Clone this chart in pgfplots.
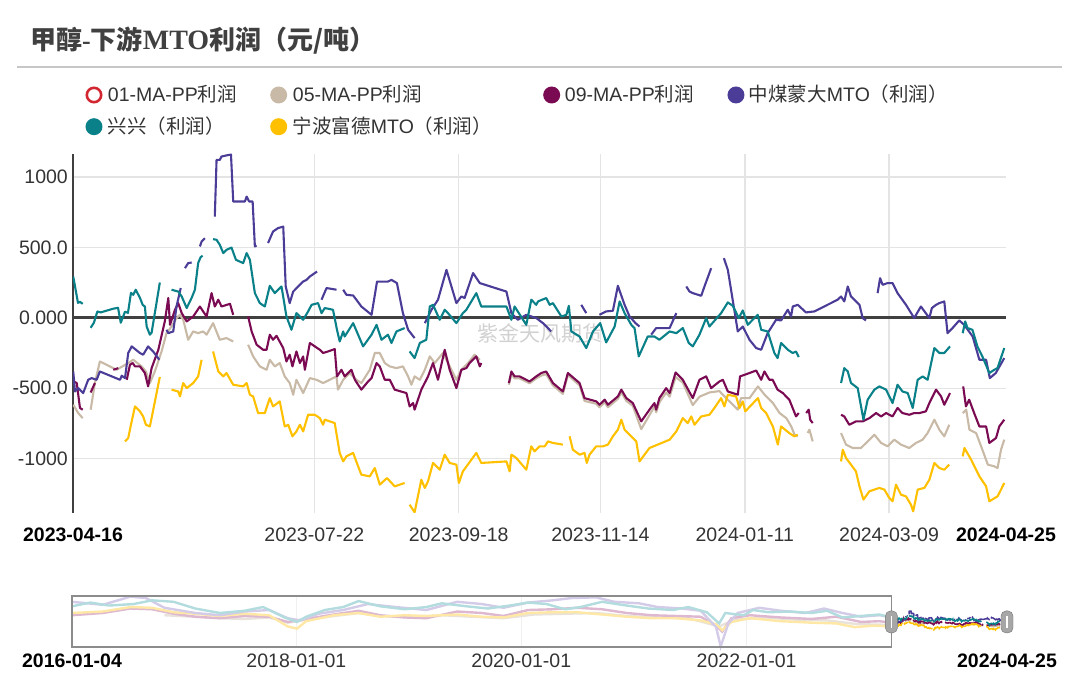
\documentclass[border=0pt]{standalone}
\usepackage{pgfplots}
\pgfplotsset{compat=1.18}
\usepackage{pgfplotstable}
\usepackage{fontspec}
\setmainfont{Liberation Sans}
\newfontfamily\cjk{Noto Sans CJK SC}
\newfontfamily\titleserif{Liberation Serif}
\definecolor{cteal}{HTML}{0A8089}
\definecolor{cpurple}{HTML}{4B3C97}
\definecolor{cmaroon}{HTML}{7A0A52}
\definecolor{cbeige}{HTML}{C8BAA6}
\definecolor{cyellow}{HTML}{FFC000}
\definecolor{cred}{HTML}{D22630}
\definecolor{lteal}{HTML}{B2DCDE}
\definecolor{lpurple}{HTML}{D3CBE8}
\definecolor{lmaroon}{HTML}{DDB8D0}
\definecolor{lbeige}{HTML}{E8E2DA}
\definecolor{lyellow}{HTML}{FFE8A6}
\definecolor{gridgray}{HTML}{E4E4E4}
\definecolor{axisdark}{HTML}{404040}
\definecolor{txt}{HTML}{333333}

\pgfplotstableread{
d v
0.1 293
2.0 106
2.8 113
3.9 99
5.5 nan
7.1 -71
8.4 -35
9.8 45
11.1 38
16.1 64
18.1 71
19.2 -35
20.9 43
22.1 35
23.3 177
24.2 163
25.2 199
26.9 142
28.0 92
28.9 80
29.6 -62
30.9 -120
31.6 -106
34.9 250
37 nan
39.6 199
42.3 186
43.7 151
45.7 69
47.7 142
49.0 199
50.3 388
51.3 430
52.1 440
54 nan
56.3 558
57.7 553
59.0 518
60.4 459
61.7 482
63.7 498
65.5 411
68.4 388
69.8 459
71.1 411
73.1 175
75.1 104
77.1 80
79.1 227
81.1 175
83.8 222
85.8 9
87.8 -85
89.8 33
92.5 -14
94.5 45
95.9 92
98.5 104
99.9 33
101.2 69
104.5 57
106.1 -85
107.2 -168
108.6 -97
109.2 -133
112.6 -38
116.6 -203
120.0 -120
122.0 -50
124.0 -156
126.6 -120
128.0 -179
130.0 -97
133.3 -73
134.3 nan
135.3 -239
137.3 -286
139.4 -179
142.0 -156
143.4 80
144.7 92
147.4 -14
149.4 57
150.7 33
154.1 -38
156.7 33
158.1 57
162.1 175
164.1 80
166.8 80
174.2 80
176.2 -14
177.5 80
182.2 -50
184.2 128
186.2 92
186.9 116
190.2 140
191.6 92
192.9 104
196.3 9
198.3 21
199.3 85
200.3 -97
203.6 -133
206.3 -215
209.0 -97
211.9 -38
214.3 -175
217.7 -62
219.7 116
221.7 33
224.4 -50
225.7 -73
227.4 -274
231.0 -133
233.7 -133
235.7 -156
239.8 -97
242.5 -109
245.1 -73
247.5 -179
249.1 -203
251.8 -120
254.5 -2
255.8 -62
260.5 33
263.2 109
265.2 85
267.6 -2
269.2 52
271.2 -50
273.2 -14
275.2 21
276.6 -85
279.2 -97
281.9 -250
283.2 -286
284.6 -179
287.3 -227
289.3 -250
290.6 -239
291.7 -279
300 nan
308.7 -463
310.0 -357
311.4 -381
312.7 -463
315.4 -499
317.7 -723
319.4 -581
322.1 -510
324.1 -487
326.8 -510
329.4 -605
331.4 -475
333.4 -523
335.5 -534
337.5 -640
339.5 -440
341.5 -416
343.5 -440
346.2 -215
348.2 -250
350.2 -250
352.5 -203
355 nan
357.6 -109
358.6 -26
359.5 -73
361.5 -85
363.5 -203
365.5 -274
368.3 -392
370.3 -369
371.6 -357
374.3 -215
}\tealdata

\pgfplotstableread{
d v
0.1 -381
0.8 -523
2.1 -499
4.1 -534
6.1 -440
7.5 -428
9.5 -440
10.8 -381
18.9 -440
19.6 -411
20.9 -428
22.2 -250
23.6 -203
26.9 -250
28.2 -262
30.2 -203
32.2 -239
34.7 -298
36 nan
37.6 -85
38.3 -109
40.3 -97
41.6 80
43.3 211
44 nan
45.0 352
46.3 388
47.7 392
49 nan
51.0 506
51.7 541
53.0 565
55 nan
57.0 718
57.7 1120
59.0 1120
59.7 1144
61.7 1152
63.5 1158
64.4 825
69.1 825
69.8 860
70.8 825
72.2 825
73.1 506
73.8 513
76 nan
78.4 530
80.4 612
82.4 636
84.5 647
85.5 222
87.1 104
88.5 186
91.2 234
92.5 257
93.9 269
95.2 293
98.1 328
99 nan
99.9 128
101.9 211
105.9 199
107 nan
108.6 199
109.9 163
112.6 158
113.9 128
115.9 80
120.0 21
122.2 257
126.6 257
128.0 269
130.2 246
132.6 33
134.7 -85
137.3 -144
139 nan
141.4 -38
144.1 57
146.7 128
150.1 340
154.1 104
156.1 151
157.4 140
160.8 317
163.5 246
174.2 186
176.2 33
178.8 -14
182.2 21
186.2 -2
188.9 -38
192.2 -97
198 nan
204.3 92
206.3 33
209 nan
211.6 21
214.3 45
217.0 50
219.0 227
221.7 92
223.7 9
226.1 -38
227.7 -62
230 nan
232.4 -120
234.4 -73
239.8 -73
242.5 33
244 nan
246.5 222
247.8 186
249.1 175
252.5 156
253.8 222
256.5 352
259 nan
261.6 423
263.2 340
267.2 -97
269.2 -62
271.9 -156
274.6 -215
276.6 -227
279.2 -109
282.6 -14
284.6 -19
287.3 57
288.6 9
289.3 80
291.3 92
294.6 38
298.0 45
307.3 128
308.7 151
310.0 116
311.4 222
312.7 151
316.1 92
317.4 -2
318.7 -19
321 nan
323.4 175
324.4 281
325.4 234
327.4 246
329.4 246
331.4 175
334.8 92
338.1 -2
340.8 80
344.2 -2
345.2 69
346.9 92
348.2 104
350.2 116
351.5 -109
353.5 -73
356.2 -19
358.2 -50
361.6 -133
364.3 -298
367.0 -298
368.5 -428
370.9 -392
374.3 -286
}\purpledata

\pgfplotstableread{
d v
0.1 -450
1.5 -463
2.8 -640
3.9 -652
5 nan
7.1 -530
8.8 -463
12 nan
16.2 -369
18.2 -357
20 nan
21.6 -440
22.9 -333
24.0 -321
24.9 -345
26.9 -345
28.9 -392
30.2 -487
31.6 -357
34.3 -227
36.9 -26
38.3 140
39.0 -50
41.0 57
42.3 104
43.7 33
45.7 -26
48.3 9
51.0 80
52.3 45
53.7 9
55.7 175
57.0 80
58.4 128
59.7 80
63.1 99
64.4 21
67 nan
70.4 9
71.8 -97
73.8 -191
76.4 -227
77.8 -227
79.1 -120
80.4 -156
81.8 -128
84.5 -215
85.8 -310
87.1 -262
88.2 -345
89.8 -239
91.2 -321
92.5 -274
93.2 -369
95.2 -179
97.2 -203
99.2 -227
100.5 -250
102.5 -239
105.2 -222
106.1 -416
107.9 -369
109.2 -416
111.9 -369
113.3 -440
115.9 -510
118.6 -452
120.0 -428
122.0 -321
123.3 -345
125.3 -440
127.3 -440
129.3 -510
134.0 -534
135.3 -629
136.7 -605
137.3 -652
140.0 -510
142.7 -416
144.7 -321
146.7 -440
149.4 -227
151.4 -369
154.1 -499
156.1 -369
158.1 -357
159.4 -321
162.1 -274
163.5 -345
164.1 -321
170 nan
175.2 -463
176.2 -381
177.5 -416
179.5 -416
183.5 -452
186.2 -416
188.2 -392
190.2 -381
192.9 -463
196.9 -523
198.9 -392
203.6 -463
205.6 -570
210.3 -593
211.6 -617
213.7 -581
215.0 -617
219.0 -558
220.4 -510
222.4 -570
225.0 -605
228.4 -735
231.7 -652
233.7 -605
234.4 -652
235.7 -570
238.4 -499
239.8 -534
242.2 -388
245.1 -440
249.1 -570
251.8 -440
254.5 -416
256.5 -499
259.8 -452
261.2 -440
263.2 -523
267.2 -546
268.1 -416
271.9 -392
274.6 -374
276.6 -440
277.9 -381
279.9 -440
281.2 -440
283.2 -510
285.3 -534
287.9 -581
290.6 -700
291.7 -676
293 nan
294.7 -676
295.7 -652
296.3 -723
297.3 -747
300 nan
308.7 -688
310.0 -700
312.0 -759
314.7 -735
317.4 -735
320.1 -712
322.8 -676
324.8 -700
326.8 -676
329.4 -700
331.4 -640
333.4 -676
336.1 -688
338.1 -676
340.2 -676
342.8 -664
344.2 -605
346.9 -510
348.9 -558
350.2 -617
352.5 -534
355 nan
357.8 -487
358.9 -629
360.2 -581
362.2 -676
364.3 -771
367.0 -771
368.3 -888
371.0 -853
372.3 -771
374.3 -723
}\maroondata

\pgfplotstableread{
d v
0.1 -617
2.1 -676
3.9 -712
5 nan
7.1 -652
8.8 -463
10.8 -310
16.2 -357
17.5 -369
22.2 -321
24.2 -298
27.6 -345
29.3 -381
30.9 -463
32.9 -381
35.6 -239
37.6 -109
39.6 -62
41.6 -2
43.0 21
44.3 -14
46.3 -156
48.3 -97
50.3 -109
52.3 -97
53.7 -120
56.3 -38
59.0 -156
61.7 -144
64.4 -168
67 nan
70.4 -191
72.4 -274
75.1 -345
77.8 -369
79.1 -298
81.1 -345
83.1 -321
85.1 -416
87.1 -463
88.5 -546
89.8 -440
92.5 -534
95.2 -428
97.9 -440
100.5 -463
103.2 -440
105.9 -416
106.5 -510
108.6 -440
111.2 -392
113.9 -440
115.9 -463
119.3 -369
121.3 -250
123.3 -250
125.3 -321
127.3 -345
130.0 -357
132.6 -345
134.7 -416
136.0 -475
137.3 -416
139.4 -440
141.4 -369
143.4 -274
145.4 -321
148.7 -250
151.4 -345
154.1 -440
156.1 -369
158.8 -321
161.4 -262
163.5 -298
170 nan
175.2 -475
176.2 -400
177.5 -430
179.5 -430
183.5 -465
186.2 -430
188.2 -410
190.2 -400
192.9 -480
196.9 -540
198.9 -405
203.6 -480
205.6 -590
210.3 -610
211.6 -635
213.7 -600
215.0 -635
219.0 -575
220.4 -530
222.4 -590
225.0 -625
228.4 -790
231.7 -690
233.7 -630
234.4 -670
235.7 -600
238.4 -530
239.8 -560
242.2 -420
245.1 -460
249.1 -620
251.8 -560
255.8 -530
259.8 -520
262.5 -570
267.2 -652
268.5 -570
271.9 -570
275.3 -487
278.0 -546
281.3 -605
284.0 -676
286.7 -712
288.7 -771
290.0 -830
291.3 -841
293 nan
295.3 -818
296.0 -794
297.3 -877
300 nan
308.7 -818
310.7 -900
313.4 -924
316.7 -924
319.4 -877
322.1 -830
324.8 -888
327.4 -912
330.1 -865
332.8 -900
336.1 -924
338.8 -888
341.5 -865
343.5 -818
346.2 -723
348.2 -794
350.2 -841
352.2 -759
355 nan
357.6 -676
359.0 -652
360.3 -794
363.0 -818
365.0 -912
367.7 -1042
370.3 -1054
371.6 -1066
373.0 -936
374.3 -865
}\beigedata

\pgfplotstableread{
d v
20.9 -877
22.2 -853
23.3 -759
24.9 -629
26.9 -664
28.2 -700
29.3 -759
30.9 -771
34.9 -420
37 nan
39.6 -510
42.3 -523
43.0 -558
44.3 -463
45.7 -499
48.3 -463
50.3 -416
51.7 -298
54 nan
56.3 -239
58.4 -381
60.4 -416
61.7 -392
64.4 -475
68.4 -487
69.8 -463
71.1 -546
72.4 -558
74.4 -676
77.1 -676
79.1 -570
80.4 -629
83.1 -593
85.1 -771
86.5 -759
88.2 -841
89.8 -806
91.2 -759
92.5 -806
94.5 -688
97.2 -688
99.2 -712
100.5 -759
101.2 -723
105.2 -747
107.2 -959
108.6 -1019
109.9 -983
112.6 -959
114.6 -1054
115.9 -1113
119.3 -1125
121.3 -1066
123.3 -1184
126.2 -1137
129.3 -1196
133.3 -1172
134.3 nan
135.3 -1326
137.3 -1380
140.0 -1149
141.4 -1207
142.7 -1160
144.7 -1030
147.4 -1078
149.4 -971
151.4 -1030
154.1 -1042
155.1 -1172
156.7 -1090
162.1 -959
164.1 -1030
174.2 -1019
175.5 -1090
176.2 -971
178.2 -995
182.2 -1078
184.2 -912
185.5 -948
187.5 -912
189.6 -912
190.9 -877
192.9 -888
196.9 -900
198.5 nan
199.6 -841
200.9 -936
203.6 -971
205.6 -959
206.5 -1030
207.6 -971
210.3 -912
213.0 -912
215.0 -900
217.0 -841
219.0 -794
220.4 -723
221.7 -794
226.4 -877
227.7 -1019
231.7 -924
239.8 -865
242.5 -806
245.1 -712
247.1 -747
248.5 -700
249.8 -759
252.5 -700
255.8 -688
257.8 -640
260.5 -570
261.8 -629
263.2 -546
266.5 -558
267.9 -640
269.2 -593
270.2 -664
275.3 -570
276.6 -640
278.6 -676
281.3 -771
283.3 -900
284.6 -771
287.9 -818
289.9 -841
291.3 -830
300 nan
308.7 -1019
309.4 -936
310.7 -995
312.7 -1042
314.7 -1090
316.1 -1196
317.7 -1290
320.1 -1231
324.1 -1207
326.1 -1219
328.1 -1278
329.4 -1302
330.8 -1184
332.8 -1255
334.8 -1267
336.8 -1326
337.7 -1373
339.5 -1219
342.2 -1207
344.2 -1149
346.2 -1030
348.2 -1066
350.2 -1078
352.2 -1042
355 nan
357.6 -983
358.3 -924
361.0 -1007
364.3 -1125
367.0 -1196
368.3 -1302
371.6 -1267
373.0 -1219
374.3 -1172
}\yellowdata

% navigator (history, days since 2016-01-04)
\pgfplotstableread{
d v
0 1800
60 2300
120 1900
200 2100
260 2600
330 2400
400 1500
480 900
560 1200
620 1700
690 300
730 -300
760 400
820 1300
880 1700
930 2500
1000 1800
1080 1400
1150 1700
1200 2200
1280 1800
1350 1500
1420 1900
1480 2300
1540 2100
1600 1400
1650 1700
1720 2400
1800 1900
1870 1500
1950 1300
2000 1700
2060 1000
2100 -500
2120 900
2180 600
2210 1300
2260 1000
2330 1100
2400 900
2450 1200
2500 300
2560 500
2620 700
2659 300
}\hteal
\pgfplotstableread{
d v
0 2400
100 2000
190 3100
240 2900
300 1600
400 900
480 600
560 1100
640 1300
700 200
740 -100
800 800
880 1300
960 2100
1050 1700
1150 1300
1250 2400
1330 2100
1400 1600
1480 2300
1560 2600
1620 2900
1700 3000
1760 2400
1840 2200
1900 1700
1980 1500
2040 1200
2090 -1000
2105 -3600
2130 -500
2160 900
2230 1600
2300 1200
2380 900
2440 1500
2500 900
2560 400
2620 600
2659 300
}\hpurple
\pgfplotstableread{
d v
0 600
100 900
190 1500
260 1400
330 800
400 400
480 200
560 500
640 400
700 -300
760 100
850 700
930 1200
1000 600
1080 300
1150 200
1250 1100
1330 900
1400 500
1480 1300
1560 1400
1640 1600
1720 1400
1800 900
1880 600
1960 500
2040 400
2090 -800
2110 -1600
2140 200
2200 600
2300 300
2400 100
2480 400
2560 -300
2620 -200
2659 -400
}\hmaroon
\pgfplotstableread{
d v
0 900
100 1100
190 1700
260 1600
330 1000
400 800
480 500
560 800
640 600
700 -900
730 -1200
760 -200
850 600
930 900
1000 400
1080 600
1150 500
1250 700
1330 400
1400 300
1480 900
1560 1000
1640 1000
1720 700
1800 400
1880 200
1960 200
2040 -100
2090 -600
2110 -1400
2140 -300
2200 200
2300 -200
2400 -400
2480 -500
2540 -1000
2600 -800
2659 -900
}\hyellow
\pgfplotstableread{
d v
300 600
400 400
480 200
560 100
640 300
700 -400
760 0
850 500
930 900
1000 500
1100 300
1200 600
1300 400
1400 200
1500 700
1600 800
1700 900
1800 500
1900 300
2000 200
2100 -900
2150 0
2250 300
2350 0
2450 -100
2550 -600
2659 -700
}\hbeige

\begin{document}
\begin{tikzpicture}[x=1pt,y=1pt]
\path[use as bounding box] (0,0) rectangle (1080,682);
% title
\node[anchor=west, inner sep=0pt, text=axisdark, font=\fontsize{26}{31}\selectfont] at (30,641)
  {{\cjk\bfseries 甲醇}{\titleserif\bfseries -}{\cjk\bfseries 下游}{\titleserif\bfseries\fontsize{28}{31}\selectfont MTO}{\cjk\bfseries 利润（元/吨）}};
\draw[color=black!22, line width=2pt] (17,615) -- (1062,615);
% watermark
\node[text=black!18, font=\fontsize{21}{24}\selectfont] at (540,349) {\cjk 紫金天风期货};

\begin{axis}[
  at={(73pt,169pt)}, anchor=south west,
  scale only axis, width=933pt, height=359pt,
  xmin=0, xmax=375, ymin=-1385, ymax=1162,
  axis x line*=bottom, axis y line*=left,
  x axis line style={draw=none},
  y axis line style={draw=axisdark, line width=2.5pt},
  major tick length=0pt,
  xtick={97,155,212,270,328},
  xticklabels={2023-07-22,2023-09-18,2023-11-14,2024-01-11,2024-03-09},
  extra x ticks={0,375},
  extra x tick labels={\textbf{2023-04-16},\textbf{2024-04-25}},
  extra x tick style={grid=none, xticklabel style={text=black}},
  ytick={-1000,-500,500,1000},
  yticklabels={-1000,-500.0,500.0,1000},
  extra y ticks={0},
  extra y tick labels={0.000},
  extra y tick style={major grid style={draw=axisdark, line width=3pt}},
  grid=major,
  major grid style={draw=gridgray, line width=1.5pt},
  tick label style={font=\fontsize{19.5}{23}\selectfont, text=txt},
  xticklabel style={anchor=north, inner sep=0pt, yshift=-15pt},
  yticklabel style={anchor=east, inner sep=0pt, xshift=-5pt},
  unbounded coords=jump,
  /pgf/number format/assume math mode=true,
  legend columns=4,
  legend cell align=left,
  legend image code/.code={\fill[#1,draw=none] (8.5pt,0pt) circle (8.5pt);},
  legend style={at={(axis description cs:0.0134,1.1887)}, anchor=north west,
    draw=none, fill=none, inner sep=0pt, outer sep=0pt, column sep=0pt, row sep=14.2pt,
    font=\fontsize{19.5}{23}\selectfont, text=txt,
    nodes={inner sep=0pt, text height=15.5pt, text depth=2pt}},
]
\addlegendimage{legend image code/.code={\draw[cred, line width=2.6pt, fill=white] (8.5pt,0pt) circle (7.2pt);}}
\addlegendentry{\makebox[167.7pt][l]{\hspace{5.5pt}01-MA-PP{\cjk 利润}}}
\addplot[cbeige, line width=2.1pt, line join=round] table[x=d,y=v]{\beigedata};
\addlegendentry{\makebox[256pt][l]{\hspace{5.8pt}05-MA-PP{\cjk 利润}}}
\addplot[cmaroon, line width=2.1pt, line join=round] table[x=d,y=v]{\maroondata};
\addlegendentry{\makebox[167.3pt][l]{\hspace{4.8pt}09-MA-PP{\cjk 利润}}}
\addplot[cpurple, line width=2.1pt, line join=round] table[x=d,y=v]{\purpledata};
\addlegendentry{\makebox[250pt][l]{\hspace{4.5pt}{\cjk 中煤蒙大}MTO{\cjk （利润）}}}
\addplot[cteal, line width=2.1pt, line join=round] table[x=d,y=v]{\tealdata};
\addlegendentry{\makebox[167.7pt][l]{\hspace{5.5pt}{\cjk 兴兴（利润）}}}
\addplot[cyellow, line width=2.1pt, line join=round] table[x=d,y=v]{\yellowdata};
\addlegendentry{\makebox[256pt][l]{\hspace{5.8pt}{\cjk 宁波富德}MTO{\cjk （利润）}}}
\end{axis}

% navigator
\begin{axis}[
  at={(72pt,35pt)}, anchor=south west,
  scale only axis, width=935pt, height=51pt,
  xmin=0, xmax=3034, ymin=-3660, ymax=3180,
  axis line style={draw=none}, major tick length=0pt,
  ytick=\empty,
  xtick={728,1458,2189},
  xticklabels={2018-01-01,2020-01-01,2022-01-01},
  extra x ticks={0,3034},
  extra x tick labels={\textbf{2016-01-04},\textbf{2024-04-25}},
  extra x tick style={grid=none, xticklabel style={text=black}},
  xmajorgrids, major grid style={draw=black!6, line width=1pt},
  tick label style={font=\fontsize{19.5}{23}\selectfont, text=txt},
  xticklabel style={anchor=north, inner sep=0pt, yshift=-7pt},
  unbounded coords=jump, clip=false,
]
\addplot[lbeige, line width=2.4pt] table[x=d,y=v]{\hbeige};
\addplot[lmaroon, line width=2.4pt] table[x=d,y=v]{\hmaroon};
\addplot[lyellow, line width=2.4pt] table[x=d,y=v]{\hyellow};
\addplot[lpurple, line width=2.4pt] table[x=d,y=v]{\hpurple};
\addplot[lteal, line width=2.4pt] table[x=d,y=v]{\hteal};
\addplot[cbeige, line width=1.5pt] table[x expr=\thisrow{d}+2659, y=v]{\beigedata};
\addplot[cmaroon, line width=1.5pt] table[x expr=\thisrow{d}+2659, y=v]{\maroondata};
\addplot[cpurple, line width=1.5pt] table[x expr=\thisrow{d}+2659, y=v]{\purpledata};
\addplot[cteal, line width=1.5pt] table[x expr=\thisrow{d}+2659, y=v]{\tealdata};
\addplot[cyellow, line width=1.5pt] table[x expr=\thisrow{d}+2659, y=v]{\yellowdata};
\draw[black!45, line width=1.3pt] (axis cs:0,-3660) rectangle (axis cs:2659,3180);
\node[fill=black!35, draw=black!55, rounded corners=5pt, minimum width=12pt, minimum height=22pt, inner sep=0pt] at (axis cs:2659,-300) {};
\draw[white, line width=1.2pt] ([yshift=-6pt]axis cs:2659,-300) -- ([yshift=6pt]axis cs:2659,-300);
\node[fill=black!35, draw=black!55, rounded corners=5pt, minimum width=12pt, minimum height=22pt, inner sep=0pt] at (axis cs:3034,-300) {};
\draw[white, line width=1.2pt] ([yshift=-6pt]axis cs:3034,-300) -- ([yshift=6pt]axis cs:3034,-300);
\end{axis}
\end{tikzpicture}
\end{document}
